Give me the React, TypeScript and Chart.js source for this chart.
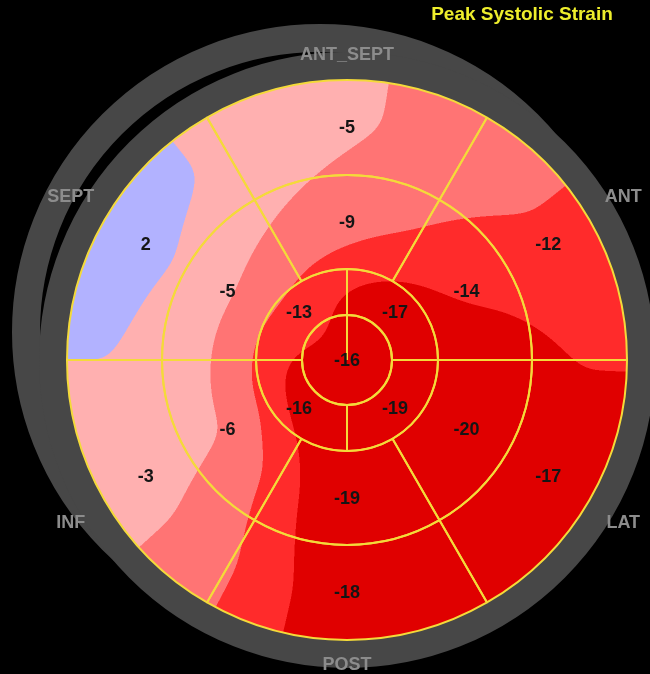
import { useEffect, useRef } from "react";
import { Chart, registerables } from "chart.js";

Chart.register(...registerables);

// 17-segment bull's-eye; outer rings run clockwise from the anteroseptal wall
const wallNames = ["ANT_SEPT", "ANT", "LAT", "POST", "INF", "SEPT"];
const basalStrain = [-5, -12, -17, -18, -3, 2];
const midStrain = [-9, -14, -20, -19, -6, -5];
// apical ring, clockwise from the upper-left quadrant
const apicalStrain = [-13, -17, -19, -16];
const apexStrain = [-16];

// colour bands: a value above bandLimits[i] takes bandColors[i]
const bandLimits = [-0.5, -6, -11, -14.7];
const bandColors = ["#b2b2ff", "#ffb0b0", "#ff7474", "#ff2b2b", "#e00000"];

const titleText = "Peak Systolic Strain";
const FONT = "'Liberation Sans', Arial, sans-serif";

type Ring = { r: number; start: number; n: number; values: number[] };

function hexToRgb(hex: string): number[] {
  const h = hex.replace("#", "");
  return [0, 2, 4].map((i) => parseInt(h.slice(i, i + 2), 16));
}

function ringsFrom(chart: any): Ring[] {
  return chart.data.datasets
    .map((ds: any, i: number) => {
      const arcs = chart.getDatasetMeta(i).data as any[];
      const first = arcs[0];
      const r = first.innerRadius < 1 ? 0 : (first.innerRadius + first.outerRadius) / 2;
      return { r, start: (first.startAngle + first.endAngle) / 2, n: arcs.length, values: ds.strain };
    })
    .sort((a: Ring, b: Ring) => a.r - b.r);
}

// linear interpolation around a ring between segment centres
function angularValue(ring: Ring, theta: number): number {
  if (ring.n === 1) return ring.values[0];
  const step = (2 * Math.PI) / ring.n;
  let t = (theta - ring.start) % (2 * Math.PI);
  if (t < 0) t += 2 * Math.PI;
  const pos = t / step;
  const k = Math.floor(pos) % ring.n;
  const f = pos - Math.floor(pos);
  return ring.values[k] * (1 - f) + ring.values[(k + 1) % ring.n] * f;
}

// radial interpolation between ring centre lines
function fieldValue(rings: Ring[], r: number, theta: number): number {
  if (r <= rings[0].r) return angularValue(rings[0], theta);
  for (let i = 1; i < rings.length; i++) {
    if (r <= rings[i].r) {
      const a = rings[i - 1];
      const b = rings[i];
      const f = (r - a.r) / (b.r - a.r);
      return angularValue(a, theta) * (1 - f) + angularValue(b, theta) * f;
    }
  }
  return angularValue(rings[rings.length - 1], theta);
}

// separable gaussian smoothing of a square grid
function smooth(src: Float32Array, n: number, sigma: number): Float32Array {
  const rad = Math.ceil(sigma * 3);
  const k: number[] = [];
  let sum = 0;
  for (let i = -rad; i <= rad; i++) {
    const w = Math.exp((-i * i) / (2 * sigma * sigma));
    k.push(w);
    sum += w;
  }
  for (let i = 0; i < k.length; i++) k[i] /= sum;
  const tmp = new Float32Array(n * n);
  const out = new Float32Array(n * n);
  for (let j = 0; j < n; j++) {
    for (let i = 0; i < n; i++) {
      let acc = 0;
      for (let t = -rad; t <= rad; t++) {
        const ii = Math.min(n - 1, Math.max(0, i + t));
        acc += k[t + rad] * src[j * n + ii];
      }
      tmp[j * n + i] = acc;
    }
  }
  for (let j = 0; j < n; j++) {
    for (let i = 0; i < n; i++) {
      let acc = 0;
      for (let t = -rad; t <= rad; t++) {
        const jj = Math.min(n - 1, Math.max(0, j + t));
        acc += k[t + rad] * tmp[jj * n + i];
      }
      out[j * n + i] = acc;
    }
  }
  return out;
}

const backdropPlugin = {
  id: "backdrop",
  beforeDraw(chart: any) {
    const ctx = chart.ctx as CanvasRenderingContext2D;
    const { width, height } = chart;
    ctx.save();
    ctx.fillStyle = "#000";
    ctx.fillRect(0, 0, width, height);
    const basal = chart.getDatasetMeta(0).data as any[];
    const cx = basal[0].x;
    const cy = basal[0].y;
    const R = basal[0].outerRadius;
    const band = 28;
    ctx.strokeStyle = "#474747";
    ctx.lineWidth = band;
    [
      [-27, -28],
      [0, 0],
    ].forEach(([dx, dy]) => {
      ctx.beginPath();
      ctx.arc(cx + dx, cy + dy, R + band / 2, 0, Math.PI * 2);
      ctx.stroke();
    });

    ctx.font = `bold 18px ${FONT}`;
    ctx.fillStyle = "#8c8c8c";
    ctx.textAlign = "center";
    ctx.textBaseline = "middle";
    basal.forEach((arc, k) => {
      const a = (arc.startAngle + arc.endAngle) / 2;
      const ry = R + 25 + (21 * Math.abs(Math.cos(a))) / Math.cos(Math.PI / 6);
      ctx.fillText(wallNames[k], cx + (R + 39) * Math.cos(a), cy + ry * Math.sin(a));
    });

    ctx.font = `bold 19px ${FONT}`;
    ctx.fillStyle = "#eeee2c";
    ctx.fillText(titleText, width - 128, 15);
    ctx.restore();
  },
};

const fieldPlugin = {
  id: "strainField",
  beforeDatasetsDraw(chart: any) {
    const ctx = chart.ctx as CanvasRenderingContext2D;
    const outer = chart.getDatasetMeta(0).data[0] as any;
    const cx = outer.x;
    const cy = outer.y;
    const R = outer.outerRadius;
    const rings = ringsFrom(chart);
    const rgb = bandColors.map(hexToRgb);

    // coarse value grid, smoothed so the contours come out rounded
    const cell = 2;
    const half = R + 40;
    const n = Math.ceil((2 * half) / cell) + 1;
    const grid = new Float32Array(n * n);
    for (let j = 0; j < n; j++) {
      const y = -half + j * cell;
      for (let i = 0; i < n; i++) {
        const x = -half + i * cell;
        grid[j * n + i] = fieldValue(rings, Math.sqrt(x * x + y * y), Math.atan2(y, x));
      }
    }
    const field = smooth(grid, n, 6);

    const ss = 2;
    const size = Math.ceil(2 * R * ss);
    const off = document.createElement("canvas");
    off.width = size;
    off.height = size;
    const octx = off.getContext("2d") as CanvasRenderingContext2D;
    const img = octx.createImageData(size, size);
    const px = img.data;
    for (let j = 0; j < size; j++) {
      const y = (j + 0.5) / ss - R;
      const gy = (y + half) / cell;
      const j0 = Math.floor(gy);
      const fy = gy - j0;
      for (let i = 0; i < size; i++) {
        const x = (i + 0.5) / ss - R;
        if (x * x + y * y > (R + 1) * (R + 1)) continue;
        const gx = (x + half) / cell;
        const i0 = Math.floor(gx);
        const fx = gx - i0;
        const a = field[j0 * n + i0];
        const b = field[j0 * n + i0 + 1];
        const c = field[(j0 + 1) * n + i0];
        const d = field[(j0 + 1) * n + i0 + 1];
        const v = (a * (1 - fx) + b * fx) * (1 - fy) + (c * (1 - fx) + d * fx) * fy;
        let band = 0;
        while (band < bandLimits.length && v <= bandLimits[band]) band++;
        const col = rgb[band];
        const o = (j * size + i) * 4;
        px[o] = col[0];
        px[o + 1] = col[1];
        px[o + 2] = col[2];
        px[o + 3] = 255;
      }
    }
    octx.putImageData(img, 0, 0);
    ctx.save();
    ctx.beginPath();
    ctx.arc(cx, cy, R, 0, Math.PI * 2);
    ctx.clip();
    ctx.imageSmoothingEnabled = true;
    ctx.imageSmoothingQuality = "high";
    ctx.drawImage(off, cx - R, cy - R, 2 * R, 2 * R);
    ctx.restore();
  },
};

const valueLabelPlugin = {
  id: "valueLabels",
  afterDatasetsDraw(chart: any) {
    const ctx = chart.ctx as CanvasRenderingContext2D;
    ctx.save();
    ctx.font = `bold 18px ${FONT}`;
    ctx.fillStyle = "#151515";
    ctx.textAlign = "center";
    ctx.textBaseline = "middle";
    chart.data.datasets.forEach((ds: any, i: number) => {
      (chart.getDatasetMeta(i).data as any[]).forEach((arc, k) => {
        const p = arc.innerRadius < 1 ? { x: arc.x, y: arc.y } : arc.getCenterPoint();
        ctx.fillText(String(ds.strain[k]), p.x, p.y + 1);
      });
    });
    ctx.restore();
  },
};

const ringStyle = {
  backgroundColor: "rgba(0,0,0,0)",
  hoverBackgroundColor: "rgba(0,0,0,0)",
  borderColor: "#f4da3a",
  hoverBorderColor: "#f4da3a",
  borderWidth: 2,
  hoverBorderWidth: 2,
  borderAlign: "center",
  offset: 0,
  hoverOffset: 0,
};

export default function App() {
  const canvasRef = useRef<HTMLCanvasElement | null>(null);

  useEffect(() => {
    document.body.style.margin = "0";
    document.body.style.background = "#000";
    const canvas = canvasRef.current;
    if (!canvas) return;
    const chart = new Chart(canvas, {
      type: "doughnut",
      data: {
        datasets: [
          { label: "Basal", data: basalStrain.map(() => 1), strain: basalStrain, weight: 95, rotation: -30, ...ringStyle },
          { label: "Mid", data: midStrain.map(() => 1), strain: midStrain, weight: 94, rotation: -30, ...ringStyle },
          { label: "Apical", data: apicalStrain.map(() => 1), strain: apicalStrain, weight: 46, rotation: -90, ...ringStyle },
          { label: "Apex", data: apexStrain.map(() => 1), strain: apexStrain, weight: 45, rotation: 0, ...ringStyle },
        ] as any,
      },
      options: {
        responsive: false,
        animation: false,
        events: [],
        cutout: 0,
        layout: { padding: { left: 66, right: 22, top: 79, bottom: 33 } },
        plugins: {
          legend: { display: false },
          tooltip: { enabled: false },
        },
      } as any,
      plugins: [backdropPlugin, fieldPlugin, valueLabelPlugin],
    });
    return () => chart.destroy();
  }, []);

  return <canvas ref={canvasRef} width={650} height={674} style={{ display: "block" }} />;
}
